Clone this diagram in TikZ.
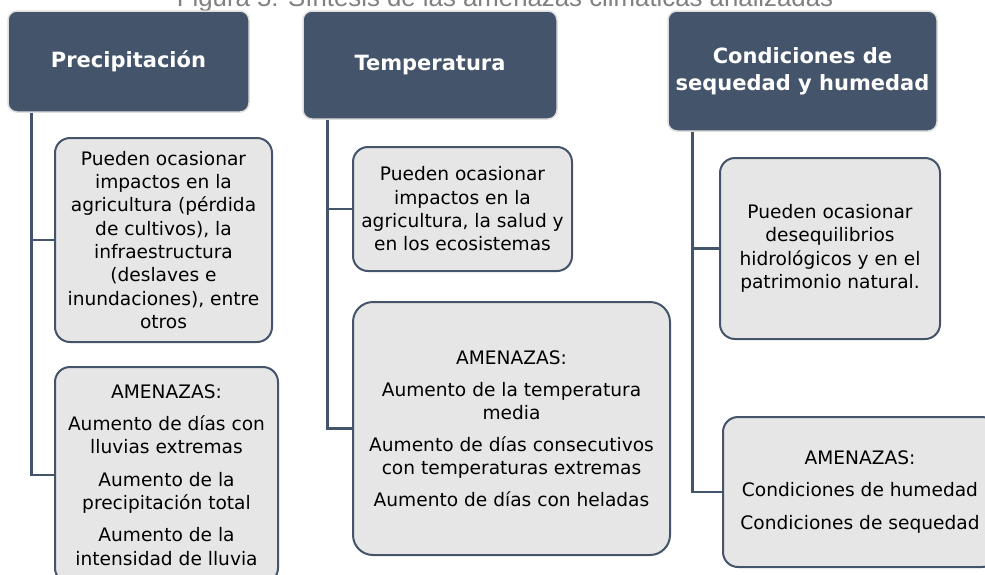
\documentclass[tikz,border=0pt]{standalone}
\usepackage{fontspec}
\setmainfont{DejaVu Sans}
\newfontfamily\captionfont{Liberation Sans}
\definecolor{slate}{HTML}{44546A}
\definecolor{boxgray}{HTML}{E7E6E6}
\definecolor{capgray}{HTML}{808080}
\begin{document}
\begin{tikzpicture}[x=1pt, y=-1pt,
    head/.style = {draw=black!13, line width=1.5pt, fill=slate, rounded corners=9pt,
      text=white, font=\fontsize{21}{27}\selectfont\bfseries, align=center, inner sep=0pt},
    box/.style = {draw=slate, line width=2pt, fill=boxgray, rounded corners=15pt,
      font=\fontsize{18.6}{23.3}\selectfont, align=center, inner sep=0pt},
    link/.style = {draw=slate, line width=2.5pt}]
    \useasboundingbox (0,0) rectangle (985,574);
    \node[text=capgray, font=\captionfont\fontsize{25.8}{30}\selectfont, anchor=base] (title) at (505,6)
      {Figura 5: Síntesis de las amenazas climáticas analizadas};
    %
    \node[head, minimum width=241pt, minimum height=101pt] (pre) at (128.5,61.5) {Precipitación};
    \node[head, minimum width=254pt, minimum height=108pt] (tem) at (430,65) {Temperatura};
    \node[head, minimum width=269pt, minimum height=120pt] (con) at (802.5,71) {Condiciones de\\sequedad y humedad};
    %
    \node[box, minimum width=217pt, minimum height=204pt] (pre1) at (163.5,240)
      {Pueden ocasionar\\impactos en la\\agricultura (pérdida\\de cultivos), la\\infraestructura\\(deslaves e\\inundaciones), entre\\otros};
    \node[box, minimum width=223pt, minimum height=216pt] (pre2) at (166.5,475)
      {AMENAZAS:\\[9pt]Aumento de días con\\lluvias extremas\\[9pt]Aumento de la\\precipitación total\\[9pt]Aumento de la\\intensidad de lluvia};
    \node[box, minimum width=219pt, minimum height=124pt] (tem1) at (462.5,209)
      {Pueden ocasionar\\impactos en la\\agricultura, la salud y\\en los ecosistemas};
    \node[box, rounded corners=20pt, minimum width=317pt, minimum height=253pt] (tem2) at (511.5,428.5)
      {AMENAZAS:\\[8.5pt]Aumento de la temperatura\\media\\[8.5pt]Aumento de días consecutivos\\con temperaturas extremas\\[8.5pt]Aumento de días con heladas};
    \node[box, minimum width=220pt, minimum height=181pt] (con1) at (830,248.5)
      {Pueden ocasionar\\desequilibrios\\hidrológicos y en el\\patrimonio natural.};
    \node[box, minimum width=274pt, minimum height=150pt] (con2) at (860,492)
      {AMENAZAS:\\[9pt]Condiciones de humedad\\[9pt]Condiciones de sequedad};
    %
    \draw[link] ([xshift=24pt]pre.south west) |- (pre1.west);
    \draw[link] ([xshift=24pt]pre.south west) |- (pre2.west);
    \draw[link] ([xshift=25pt]tem.south west) |- (tem1.west);
    \draw[link] ([xshift=25pt]tem.south west) |- (tem2.west);
    \draw[link] ([xshift=25pt]con.south west) |- (con1.west);
    \draw[link] ([xshift=25pt]con.south west) |- (con2.west);
\end{tikzpicture}
\end{document}
